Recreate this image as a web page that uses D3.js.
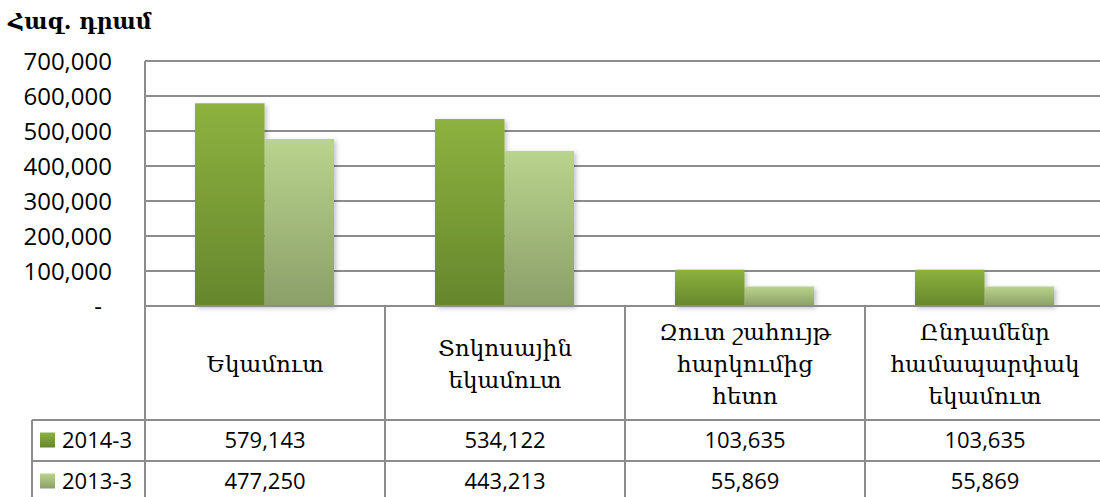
<!DOCTYPE html>
<html><head><meta charset="utf-8">
<script src="https://cdn.jsdelivr.net/npm/d3@7"></script>
<style>
html,body{margin:0;padding:0;background:#fff;}
svg{display:block;}
</style></head>
<body>
<script>
const categories = [
  ["Եկամուտ"],
  ["Տոկոսային", "եկամուտ"],
  ["Զուտ շահույթ", "հարկումից", "հետո"],
  ["Ընդամենր", "համապարփակ", "եկամուտ"]
];
const seriesNames = ["2014-3", "2013-3"];
const values2014 = [579143, 534122, 103635, 103635];
const values2013 = [477250, 443213, 55869, 55869];
const yTicks = [0, 100000, 200000, 300000, 400000, 500000, 600000, 700000];
const unitLabel = "Հազ. դրամ";

(function () {
const W = 1100, H = 497;
const svg = d3.select("body").append("svg").attr("width", W).attr("height", H);
const defs = svg.append("defs");
const grads = [["g2014", "#8db23f", "#66862c"], ["g2013", "#b9d48d", "#8b9f69"]];
grads.forEach(([id, a, b]) => {
  const g = defs.append("linearGradient").attr("id", id).attr("x1", 0).attr("y1", 0).attr("x2", 0).attr("y2", 1);
  g.append("stop").attr("offset", "0%").attr("stop-color", a);
  g.append("stop").attr("offset", "100%").attr("stop-color", b);
});
const f = defs.append("filter").attr("id", "sh").attr("x", "-20%").attr("y", "-20%").attr("width", "140%").attr("height", "140%");
f.append("feDropShadow").attr("dx", 2).attr("dy", 2).attr("stdDeviation", 2.5).attr("flood-color", "#000").attr("flood-opacity", 0.25);

const pl = 145, pr = 1105, pt = 61, zeroY = 306;
const catKeys = categories.map((c, i) => i);
const x = d3.scaleBand().domain(catKeys).range([pl, pr]);
const x1 = d3.scaleBand().domain(seriesNames).range([50, 189]);
const y = d3.scaleLinear().domain([0, 700000]).range([zeroY, pt]);
const gridColor = "#8c8c8c";
const numFont = "'Open Sans', 'Noto Sans', sans-serif";
const armFont = "'DejaVu Serif', 'DejaVu Sans', serif";

// gridlines
svg.append("g").selectAll("line").data(yTicks.filter(d => d > 0)).join("line")
  .attr("x1", pl).attr("x2", pr).attr("y1", d => y(d)).attr("y2", d => y(d))
  .attr("stroke", gridColor).attr("stroke-width", 2);

// y axis labels
const yAxis = d3.axisLeft(y).tickValues(yTicks).tickSize(0).tickPadding(0)
  .tickFormat(d => d === 0 ? "-" : d3.format(",")(d));
const ya = svg.append("g").attr("transform", `translate(112,0)`).call(yAxis);
ya.select(".domain").remove();
ya.selectAll("text").attr("font-family", numFont).attr("font-size", 24).attr("fill", "#000")
  .attr("dy", "0.35em")
  .attr("x", d => d === 0 ? -10 : 0);

// bars
const series = [
  {name: seriesNames[0], vals: values2014, fill: "url(#g2014)"},
  {name: seriesNames[1], vals: values2013, fill: "url(#g2013)"}
];
const bg = svg.append("g").attr("filter", "url(#sh)");
series.slice().reverse().forEach(s => {
  bg.selectAll(null).data(s.vals).join("rect")
    .attr("x", (d, i) => x(i) + x1(s.name))
    .attr("width", x1.bandwidth())
    .attr("y", d => y(d))
    .attr("height", d => zeroY - y(d))
    .attr("fill", s.fill);
});

// table lines
const row1 = 420, row2 = 461, row3 = 502;
const tl = svg.append("g").attr("stroke", gridColor).attr("stroke-width", 2);
tl.append("line").attr("x1", pl).attr("x2", pr).attr("y1", zeroY).attr("y2", zeroY);
tl.append("line").attr("x1", pl).attr("x2", pl).attr("y1", pt).attr("y2", row3);
tl.append("line").attr("x1", pl).attr("x2", pr).attr("y1", pt).attr("y2", pt);
catKeys.forEach(i => {
  tl.append("line").attr("x1", x(i) + x.bandwidth()).attr("x2", x(i) + x.bandwidth()).attr("y1", zeroY).attr("y2", row3);
});
tl.append("line").attr("x1", 32).attr("x2", pr).attr("y1", row1).attr("y2", row1);
tl.append("line").attr("x1", 32).attr("x2", pr).attr("y1", row2).attr("y2", row2);
tl.append("line").attr("x1", 32).attr("x2", 32).attr("y1", row1).attr("y2", row3);

// category labels
const lh = 32;
categories.forEach((lines, i) => {
  const cx = x(i) + x.bandwidth() / 2;
  const cy = (zeroY + row1) / 2 + 1;
  const t = svg.append("text").attr("font-family", armFont).attr("font-size", 23).attr("fill", "#000")
    .attr("text-anchor", "middle");
  lines.forEach((ln, j) => {
    t.append("tspan").attr("x", cx).attr("y", cy + (j - (lines.length - 1) / 2) * lh).attr("dy", "0.35em").text(ln);
  });
});

// data rows
const rows = [[row1, row2], [row2, row3]];
series.forEach((s, si) => {
  const cy = (rows[si][0] + rows[si][1]) / 2;
  svg.append("rect").attr("x", 40).attr("y", cy - 8).attr("width", 15).attr("height", 15).attr("fill", s.fill);
  svg.append("text").attr("x", 62).attr("y", cy).attr("dy", "0.35em").attr("font-family", numFont)
    .attr("font-size", 22).attr("fill", "#000").text(s.name);
  svg.selectAll(null).data(s.vals).join("text")
    .attr("x", (d, i) => x(i) + x.bandwidth() / 2).attr("y", cy).attr("dy", "0.35em")
    .attr("text-anchor", "middle").attr("font-family", numFont).attr("font-size", 22).attr("fill", "#000")
    .text(d => d3.format(",")(d));
});

// unit label
svg.append("text").attr("x", 8).attr("y", 29).attr("font-family", armFont).attr("font-weight", "bold")
  .attr("font-size", 22).attr("fill", "#000").text(unitLabel);
})();
</script>
</body></html>
